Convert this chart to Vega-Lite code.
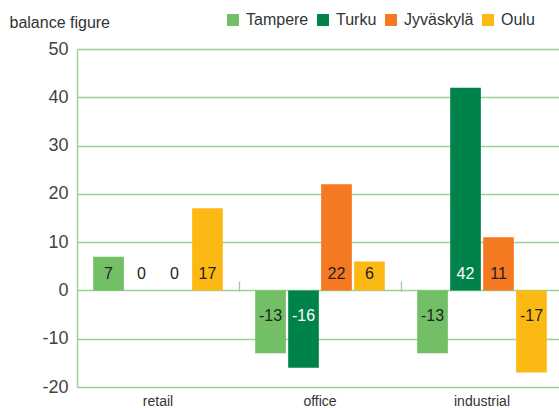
{
  "$schema": "https://vega.github.io/schema/vega-lite/v6.json",
  "width": 486,
  "height": 338,
  "autosize": "none",
  "padding": {"left": 77, "top": 49, "right": 0, "bottom": 21},
  "background": "white",
  "config": {
    "font": "Liberation Sans",
    "view": {"stroke": null},
    "locale": {
      "number": {
        "decimal": ".",
        "thousands": ",",
        "grouping": [3],
        "currency": ["$", ""],
        "minus": "-"
      }
    }
  },
  "data": {
    "values": [
      {"category": "retail", "city": "Tampere", "value": 7},
      {"category": "retail", "city": "Turku", "value": 0},
      {"category": "retail", "city": "Jyväskylä", "value": 0},
      {"category": "retail", "city": "Oulu", "value": 17},
      {"category": "office", "city": "Tampere", "value": -13},
      {"category": "office", "city": "Turku", "value": -16},
      {"category": "office", "city": "Jyväskylä", "value": 22},
      {"category": "office", "city": "Oulu", "value": 6},
      {"category": "industrial", "city": "Tampere", "value": -13},
      {"category": "industrial", "city": "Turku", "value": 42},
      {"category": "industrial", "city": "Jyväskylä", "value": 11},
      {"category": "industrial", "city": "Oulu", "value": -17}
    ]
  },
  "resolve": {"axis": {"x": "independent"}},
  "layer": [
    {
      "mark": {"type": "bar"},
      "encoding": {
        "x": {
          "field": "category",
          "type": "nominal",
          "sort": ["retail", "office", "industrial"],
          "scale": {"paddingInner": 0.2, "paddingOuter": 0.1},
          "axis": {
            "orient": "bottom",
            "title": null,
            "domain": false,
            "ticks": false,
            "labelAngle": 0,
            "labelFontSize": 14,
            "labelColor": "#333",
            "labelPadding": 7
          }
        },
        "xOffset": {
          "field": "city",
          "type": "nominal",
          "sort": ["Tampere", "Turku", "Jyväskylä", "Oulu"],
          "scale": {"paddingInner": 0.07, "paddingOuter": 0}
        },
        "y": {
          "field": "value",
          "type": "quantitative",
          "scale": {"domain": [-20, 50], "nice": false, "zero": false},
          "axis": {
            "values": [-20, -10, 0, 10, 20, 30, 40, 50],
            "title": "balance figure",
            "titleAngle": 0,
            "titleAlign": "left",
            "titleBaseline": "middle",
            "titleX": -68,
            "titleY": -27,
            "titleFontSize": 16,
            "titleFontWeight": "normal",
            "titleColor": "#333",
            "labelFontSize": 18,
            "labelColor": "#444",
            "labelPadding": 9,
            "ticks": false,
            "grid": true,
            "gridColor": "#97d391",
            "gridWidth": 1.3,
            "domainColor": "#97d391",
            "domainWidth": 1.5
          }
        },
        "color": {
          "field": "city",
          "type": "nominal",
          "scale": {
            "domain": ["Tampere", "Turku", "Jyväskylä", "Oulu"],
            "range": ["#73bf66", "#00834a", "#f47920", "#fdb913"]
          },
          "legend": {
            "title": null,
            "orient": "none",
            "direction": "horizontal",
            "gridAlign": "none",
            "legendX": 148,
            "legendY": -37,
            "symbolType": "square",
            "symbolSize": 144,
            "symbolStrokeWidth": 0,
            "symbolOpacity": 1,
            "labelFontSize": 16,
            "labelColor": "#333",
            "labelOffset": 5,
            "columnPadding": 6
          }
        }
      }
    },
    {
      "transform": [{"filter": "datum.value >= 0"}],
      "mark": {"type": "text", "fontSize": 16, "dy": -16, "baseline": "middle"},
      "encoding": {
        "x": {
          "field": "category",
          "type": "nominal",
          "sort": ["retail", "office", "industrial"],
          "axis": {
            "orient": "top",
            "offset": -242,
            "title": null,
            "labels": false,
            "domain": false,
            "ticks": true,
            "tickBand": "center",
            "tickOffset": 81,
            "tickSize": 10,
            "tickColor": "#97d391",
            "tickWidth": 1.3
          }
        },
        "xOffset": {"field": "city", "type": "nominal", "sort": ["Tampere", "Turku", "Jyväskylä", "Oulu"]},
        "y": {"datum": 0, "type": "quantitative"},
        "text": {"field": "value", "type": "quantitative"},
        "color": {
          "condition": {"test": "datum.city === 'Turku' && datum.value !== 0", "value": "#ffffff"},
          "value": "#222222"
        }
      }
    },
    {
      "transform": [{"filter": "datum.value < 0"}],
      "mark": {"type": "text", "fontSize": 16, "dy": 26, "baseline": "middle"},
      "encoding": {
        "x": {"field": "category", "type": "nominal", "sort": ["retail", "office", "industrial"], "axis": null},
        "xOffset": {"field": "city", "type": "nominal", "sort": ["Tampere", "Turku", "Jyväskylä", "Oulu"]},
        "y": {"datum": 0, "type": "quantitative"},
        "text": {"field": "value", "type": "quantitative"},
        "color": {
          "condition": {"test": "datum.city === 'Turku'", "value": "#ffffff"},
          "value": "#222222"
        }
      }
    }
  ]
}
